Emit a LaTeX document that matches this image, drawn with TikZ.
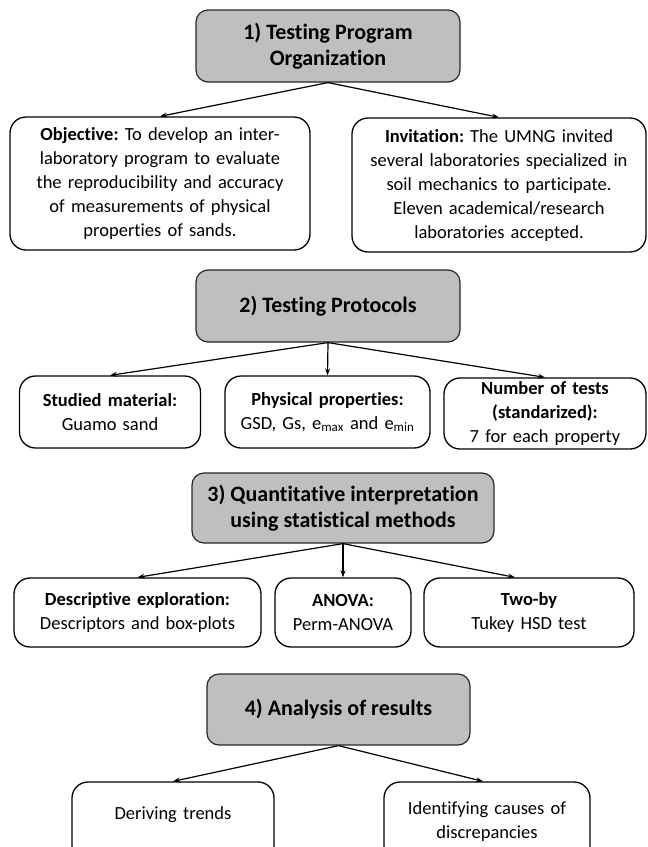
\documentclass[tikz,border=0pt]{standalone}
\usepackage{fontspec}
\setmainfont{Carlito}[Ligatures=NoCommon]
\usetikzlibrary{arrows.meta}
\frenchspacing

\tikzset{
  graybox/.style={draw=black!85, fill=gray!50, rounded corners=12pt, line width=1.2pt,
    align=center, inner sep=2pt, font=\fontsize{22}{26}\selectfont\bfseries},
  whitebox/.style={draw=black, fill=white, rounded corners=16pt, line width=1.3pt,
    align=center, inner sep=2pt, font=\fontsize{18.5}{24}\selectfont},
  link/.style={-{Stealth[length=7pt,width=5pt]}, line width=1.2pt}
}

\begin{document}
\begin{tikzpicture}[x=1pt,y=-1pt]
  \useasboundingbox (0,0) rectangle (648,847);

  % 1) organisation
  \node[graybox, minimum width=264pt, minimum height=72pt] (org) at (328,46)
    {1) Testing Program\\Organization};
  \node[whitebox, minimum width=300pt, minimum height=133pt, text width=292pt] (obj) at (160,183.5)
    {\textbf{Objective:} To develop an inter-\\laboratory program to evaluate\\the reproducibility and accuracy\\of measurements of physical\\properties of sands.};
  \node[whitebox, minimum width=294pt, minimum height=134pt, text width=288pt] (inv) at (499,185)
    {\textbf{Invitation:} The UMNG invited\\several laboratories specialized in\\soil mechanics to participate.\\Eleven academical/research\\laboratories accepted.};
  \draw[link] (org.south) -- (obj.north);
  \draw[link] (org.south) -- (inv.north);

  % 2) protocols
  \node[graybox, minimum width=264pt, minimum height=72pt] (prot) at (328,306)
    {2) Testing Protocols};
  \node[whitebox, minimum width=181pt, minimum height=72pt, text width=175pt] (mat) at (110,412)
    {\textbf{Studied material:}\\Guamo sand};
  \node[whitebox, minimum width=205pt, minimum height=72pt, text width=199pt] (prop) at (327.5,412)
    {\textbf{Physical properties:}\\GSD, Gs, e\textsubscript{max} and e\textsubscript{min}};
  \node[whitebox, minimum width=202pt, minimum height=71pt, text width=196pt] (num) at (545,413.5)
    {\textbf{Number of tests}\\\textbf{(standarized):}\\7 for each property};
  \draw[link] (prot.south) -- (mat.north);
  \draw[link] (prot.south) -- (prop.north);
  \draw[link] (prot.south) -- (num.north);

  % 3) statistics
  \node[graybox, minimum width=302pt, minimum height=70pt] (stat) at (343,508)
    {3) Quantitative interpretation\\using statistical methods};
  \node[whitebox, minimum width=247pt, minimum height=69pt, text width=241pt] (desc) at (137.5,612.5)
    {\textbf{Descriptive exploration:}\\Descriptors and box-plots};
  \node[whitebox, minimum width=136pt, minimum height=69pt, text width=130pt] (anova) at (343,612.5)
    {\textbf{ANOVA:}\\Perm-ANOVA};
  \node[whitebox, minimum width=210pt, minimum height=69pt, text width=204pt] (twoby) at (529,612.5)
    {\textbf{Two-by}\\Tukey HSD test};
  \draw[link] (stat.south) -- (desc.north);
  \draw[link] (stat.south) -- (anova.north);
  \draw[link] (stat.south) -- ([xshift=-14pt]twoby.north);

  % 4) results
  \node[graybox, minimum width=263pt, minimum height=71pt] (res) at (338.5,709.5)
    {4) Analysis of results};
  \node[whitebox, minimum width=202pt, minimum height=80pt, text width=196pt] (trend) at (173,822)
    {\\[-26pt]Deriving trends};
  \node[whitebox, minimum width=206pt, minimum height=80pt, text width=200pt] (cause) at (487,822)
    {Identifying causes of\\discrepancies\\[8pt]};
  \draw[link] (res.south) -- (trend.north);
  \draw[link] (res.south) -- ([xshift=-4pt]cause.north);
\end{tikzpicture}
\end{document}
